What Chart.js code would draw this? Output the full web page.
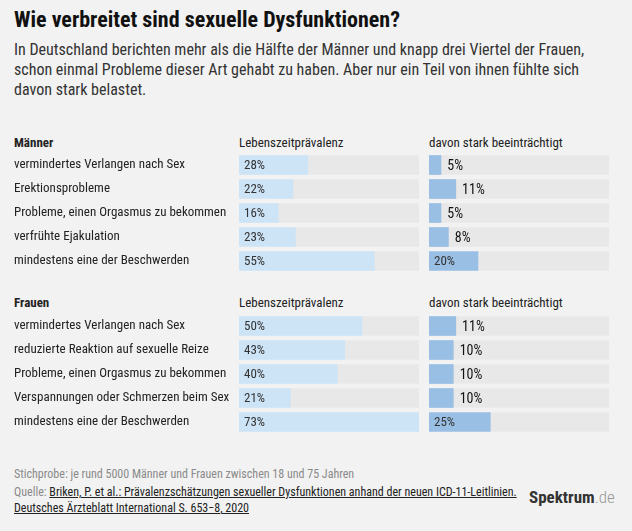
<!DOCTYPE html>
<html lang="de">
<head>
<meta charset="utf-8">
<script src="https://cdn.jsdelivr.net/npm/chart.js@4.4.1/dist/chart.umd.min.js"></script>
<style>
  body { margin: 0; width: 632px; height: 531px; background: #f2f2f2; font-family: "Roboto Condensed", sans-serif; color: #222; position: relative; overflow: hidden; }
  .abs { position: absolute; white-space: nowrap; }
  .title { left: 14px; top: 7px; font-size: 22px; line-height: 26px; font-weight: 700; color: #111; }
  .sub { left: 14px; top: 40px; font-size: 16px; line-height: 20px; color: #333; }
  .hd { font-size: 13px; line-height: 16px; color: #222; }
  .hd b { font-weight: 700; }
  .note { left: 14px; font-size: 12px; line-height: 16px; color: #8a8a8a; }
  .note a { color: #222; text-decoration: underline; }
  .logo { left: 529px; top: 487px; font-size: 17px; line-height: 20px; color: #333; font-weight: 700; }
  .logo span { font-weight: 300; color: #999; }
  canvas { position: absolute; }
</style>
</head>
<body>
<div class="abs title">Wie verbreitet sind sexuelle Dysfunktionen?</div>
<div class="abs sub">In Deutschland berichten mehr als die Hälfte der Männer und knapp drei Viertel der Frauen,<br>schon einmal Probleme dieser Art gehabt zu haben. Aber nur ein Teil von ihnen fühlte sich<br>davon stark belastet.</div>

<div class="abs hd" style="left:14px;top:135px"><b>Männer</b></div>
<div class="abs hd" style="left:239px;top:135px">Lebenszeitprävalenz</div>
<div class="abs hd" style="left:429px;top:135px">davon stark beeinträchtigt</div>
<canvas id="mLinks" width="419" height="120" style="left:0;top:153px"></canvas>
<canvas id="mRechts" width="180" height="120" style="left:429px;top:153px"></canvas>

<div class="abs hd" style="left:14px;top:295px"><b>Frauen</b></div>
<div class="abs hd" style="left:239px;top:295px">Lebenszeitprävalenz</div>
<div class="abs hd" style="left:429px;top:295px">davon stark beeinträchtigt</div>
<canvas id="fLinks" width="419" height="120" style="left:0;top:314px"></canvas>
<canvas id="fRechts" width="180" height="120" style="left:429px;top:314px"></canvas>

<div class="abs note" style="top:466px">Stichprobe: je rund 5000 Männer und Frauen zwischen 18 und 75 Jahren</div>
<div class="abs note" style="top:484px">Quelle: <a>Briken, P. et al.: Prävalenzschätzungen sexueller Dysfunktionen anhand der neuen ICD-11-Leitlinien.</a><br><a>Deutsches Ärzteblatt International S. 653−8, 2020</a></div>
<div class="abs logo">Spektrum<span>.de</span></div>

<script>
const maennerKategorien = ['vermindertes Verlangen nach Sex', 'Erektionsprobleme', 'Probleme, einen Orgasmus zu bekommen', 'verfrühte Ejakulation', 'mindestens eine der Beschwerden'];
const maennerLebenszeit = [28, 22, 16, 23, 55];
const maennerBelastet = [5, 11, 5, 8, 20];

const frauenKategorien = ['vermindertes Verlangen nach Sex', 'reduzierte Reaktion auf sexuelle Reize', 'Probleme, einen Orgasmus zu bekommen', 'Verspannungen oder Schmerzen beim Sex', 'mindestens eine der Beschwerden'];
const frauenLebenszeit = [50, 43, 40, 21, 73];
const frauenBelastet = [11, 10, 10, 10, 25];

const skalaMax = 73;
const FONT = '"Roboto Condensed", sans-serif';

// Prozentwerte: innen am Balkenanfang, sonst rechts neben dem Balken
const wertLabels = {
    id: 'wertLabels',
    afterDatasetsDraw(chart) {
        const ctx = chart.ctx;
        const meta = chart.getDatasetMeta(0);
        const werte = chart.data.datasets[0].data;
        ctx.save();
        ctx.textBaseline = 'middle';
        ctx.textAlign = 'left';
        meta.data.forEach((bar, i) => {
            const txt = werte[i] + '%';
            ctx.font = '13px ' + FONT;
            const w = ctx.measureText(txt).width;
            const innen = (bar.x - bar.base) >= w + 10;
            if (innen) {
                ctx.fillStyle = '#333';
                ctx.fillText(txt, bar.base + 5, bar.y + 1);
            } else {
                ctx.font = '14px ' + FONT;
                ctx.fillStyle = '#111';
                ctx.fillText(txt, bar.x + 6, bar.y + 1);
            }
        });
        ctx.restore();
    }
};

function balken(id, labels, werte, farbe, mitAchse) {
    return new Chart(document.getElementById(id), {
        type: 'bar',
        data: {
            labels: labels,
            datasets: [
                { data: werte, backgroundColor: farbe, order: 1, grouped: false },
                { data: werte.map(() => skalaMax), backgroundColor: '#e8e8e8', order: 2, grouped: false }
            ]
        },
        options: {
            indexAxis: 'y',
            responsive: false,
            animation: false,
            devicePixelRatio: 1,
            categoryPercentage: 1,
            barPercentage: 0.82,
            layout: { padding: { left: mitAchse ? 14 : 0, right: 0, top: 0, bottom: 0 } },
            plugins: { legend: { display: false }, tooltip: { enabled: false } },
            scales: {
                x: { display: false, min: 0, max: skalaMax },
                y: {
                    display: mitAchse,
                    grid: { display: false },
                    border: { display: false },
                    ticks: { color: '#222', font: { family: FONT, size: 13 }, crossAlign: 'far', padding: 0 },
                    afterFit: (s) => {
                        if (!mitAchse) return;
                        s.width = 225;
                        s.paddingTop = 0;
                        s.paddingBottom = 0;
                    }
                }
            }
        },
        plugins: [wertLabels]
    });
}

document.fonts.load('13px "Roboto Condensed"').then(() => {
    balken('mLinks', maennerKategorien, maennerLebenszeit, '#cde3f6', true);
    balken('mRechts', maennerKategorien, maennerBelastet, '#9abfe4', false);
    balken('fLinks', frauenKategorien, frauenLebenszeit, '#cde3f6', true);
    balken('fRechts', frauenKategorien, frauenBelastet, '#9abfe4', false);
});
</script>
</body>
</html>
